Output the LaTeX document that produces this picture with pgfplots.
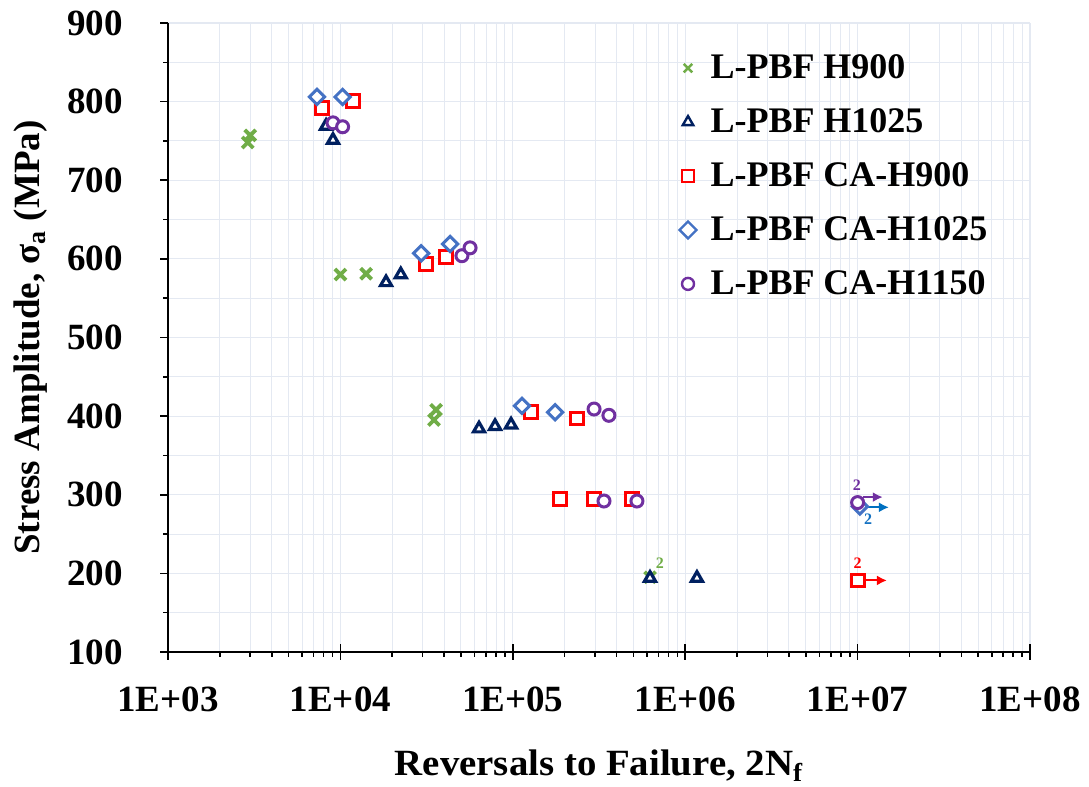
\documentclass[border=0pt]{standalone}
\usepackage{fontspec}
\setmainfont{Liberation Serif}
\newfontfamily\xlabfont[FakeStretch=1.05]{Liberation Serif}
\usepackage{pgfplots}
\pgfplotsset{compat=1.18}
\usetikzlibrary{arrows.meta}
\definecolor{cgreen}{RGB}{112,173,71}
\definecolor{cnavy}{RGB}{0,32,96}
\definecolor{cred}{RGB}{255,0,0}
\definecolor{cblue}{RGB}{68,114,196}
\definecolor{cpurple}{RGB}{112,48,160}
\definecolor{carrowblue}{RGB}{0,112,192}
\definecolor{gridc}{RGB}{228,233,242}
\begin{document}
\begin{tikzpicture}
\begin{axis}[
 scale only axis, width=431pt, height=314.5pt,
 xmode=log, xmin=1e3, xmax=1e8, ymin=100, ymax=900,
 axis lines*=left, axis line style={line width=1pt, black},
 xtick={1e3,1e4,1e5,1e6,1e7,1e8},
 xticklabels={1E+03,1E+04,1E+05,1E+06,1E+07,1E+08},
 extra x ticks={1e3,1e4,1e5,1e6,1e7,1e8},
 extra x tick labels={},
 extra x tick style={tick align=inside, grid=none, major tick length=4pt},
 minor xtick={2000,3000,4000,5000,6000,7000,8000,9000,
   20000,30000,40000,50000,60000,70000,80000,90000,
   2e5,3e5,4e5,5e5,6e5,7e5,8e5,9e5,
   2e6,3e6,4e6,5e6,6e6,7e6,8e6,9e6,
   2e7,3e7,4e7,5e7,6e7,7e7,8e7,9e7},
 ytick={100,200,300,400,500,600,700,800,900},
 minor ytick={150,250,350,450,550,650,750,850},
 grid=both, major grid style={gridc, line width=0.6pt}, minor grid style={gridc, line width=0.5pt},
 tick align=outside, major tick length=4pt, minor tick length=2.5pt,
 tick style={black, line width=0.8pt},
 ticklabel style={font=\fontsize{18.5}{21}\selectfont\bfseries},
 xticklabel style={yshift=-10pt},
 yticklabel style={xshift=-15pt},
 /pgf/number format/assume math mode=true,
 xlabel={\xlabfont\bfseries Reversals to Failure, 2N\textsubscript{f}},
 ylabel={Stress Amplitude, σ\textsubscript{a} (MPa)},
 label style={font=\fontsize{18.5}{21}\selectfont\bfseries},
 xlabel style={yshift=-8pt},
 ylabel style={yshift=3pt},
 legend style={at={(0.586,0.963)}, anchor=north west, draw=none, fill=none,
   font=\fontsize{18}{21}\selectfont\bfseries, row sep=9.5pt, column sep=5pt},
 legend cell align=left,
 legend image post style={mark size=3pt, line width=1.2pt},
]
\addplot[only marks, mark=x, mark size=3.9pt, line width=1.9pt, cgreen] coordinates {
 (2900,748) (3000,757) (10000,580) (14100,581) (35900,408) (34900,395) (625000,195)};
\addlegendentry{L-PBF H900}
\addplot[only marks, mark=triangle*, mark size=3.2pt, line width=1.6pt, cnavy, mark options={fill=white}] coordinates {
 (8260,769) (9060,751) (18400,570) (22400,580) (63700,384) (78900,387) (97700,389) (625000,194) (1170000,194)};
\addlegendentry{L-PBF H1025}
\addplot[only marks, mark=square*, mark size=3.2pt, line width=1.5pt, cred, mark options={fill=white}] coordinates {
 (7820,792) (11800,801) (31400,593) (41000,602) (128000,405) (236000,397) (188000,295) (296000,295) (490000,295) (10000000,191)};
\addlegendentry{L-PBF CA-H900}
\addplot[only marks, mark=square*, mark size=2.7pt, line width=1.5pt, cblue, mark options={fill=white, rotate=45}] coordinates {
 (7310,806) (10300,806) (29400,607) (43300,619) (113000,413) (176000,405) (10300000,285)};
\addlegendentry{L-PBF CA-H1025}
\addplot[only marks, mark=*, mark size=3pt, line width=1.5pt, cpurple, mark options={fill=white}] coordinates {
 (9060,773) (10300,768) (50700,604) (56500,614) (296000,409) (361000,401) (338000,292) (525000,292) (10000000,290)};
\addlegendentry{L-PBF CA-H1150}
\draw[cred, line width=1pt, -{Latex[length=5pt,width=5pt]}] (axis cs:1.12e7,191) -- (axis cs:1.48e7,191);
\draw[cpurple, line width=1pt, -{Latex[length=5pt,width=5pt]}] (axis cs:1.08e7,297) -- (axis cs:1.40e7,297);
\draw[carrowblue, line width=1pt, -{Latex[length=5pt,width=5pt]}] (axis cs:1.12e7,284) -- (axis cs:1.52e7,284);
\node[cpurple, font=\fontsize{8}{9}\selectfont\bfseries] at (axis cs:9.9e6,312) {2};
\node[carrowblue!70!cblue, font=\fontsize{8}{9}\selectfont\bfseries] at (axis cs:1.15e7,269) {2};
\node[cred, font=\fontsize{8}{9}\selectfont\bfseries] at (axis cs:1.0e7,213) {2};
\node[cgreen, font=\fontsize{8}{9}\selectfont\bfseries] at (axis cs:7.14e5,213) {2};
\end{axis}
\pgfresetboundingbox
\path[use as bounding box] ([shift={(-84pt,-67.5pt)}]current axis.south west) rectangle ([shift={(29.5pt,11.5pt)}]current axis.north east);
\end{tikzpicture}
\end{document}
